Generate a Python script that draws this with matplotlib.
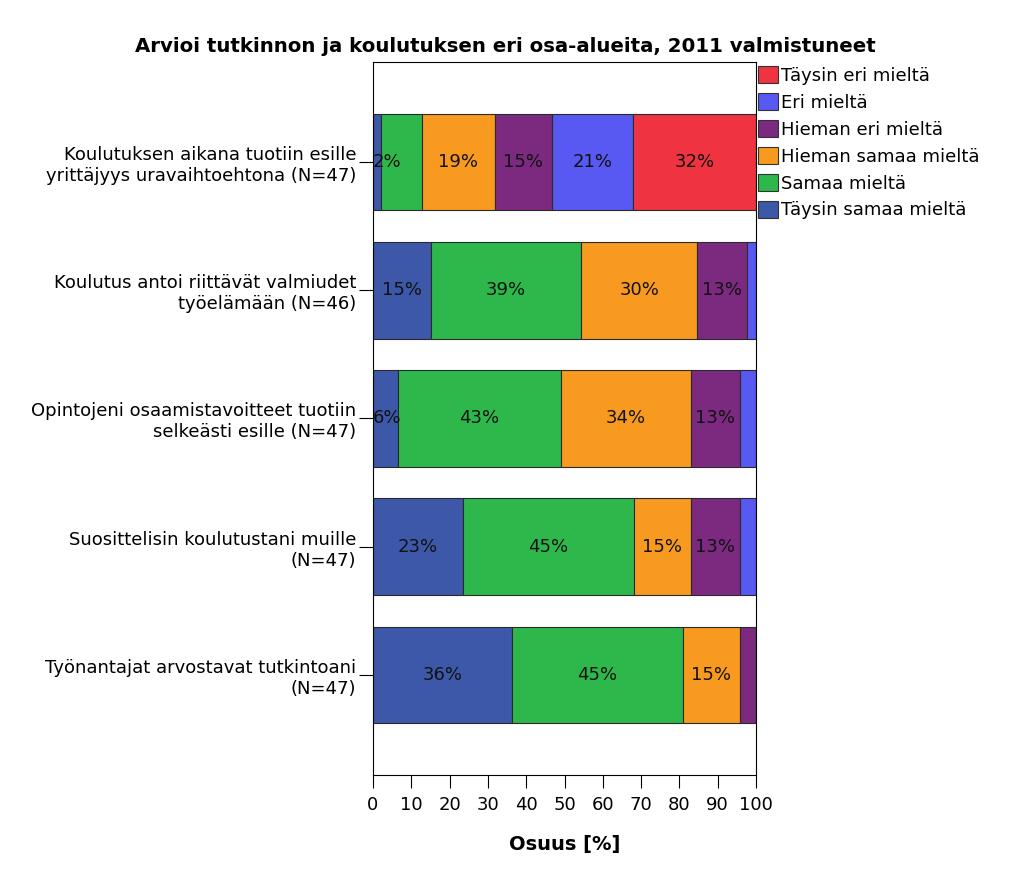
import matplotlib
matplotlib.use("Agg")
import matplotlib.pyplot as plt
from matplotlib.patches import Patch
import numpy as np

plt.rcParams['font.family'] = ['DejaVu Sans']

categories = [
    "Koulutuksen aikana tuotiin esille\nyrittäjyys uravaihtoehtona (N=47)",
    "Koulutus antoi riittävät valmiudet\ntyöelämään (N=46)",
    "Opintojeni osaamistavoitteet tuotiin\nselkeästi esille (N=47)",
    "Suosittelisin koulutustani muille\n(N=47)",
    "Työnantajat arvostavat tutkintoani\n(N=47)",
]
series_names = ["Täysin samaa mieltä", "Samaa mieltä", "Hieman samaa mieltä",
                "Hieman eri mieltä", "Eri mieltä", "Täysin eri mieltä"]
colors = ["#3D58A8", "#2EB84B", "#F89A1F", "#7B2A80", "#5858F2", "#EF3340"]

taysin_samaa = [2.1, 15.2, 6.4, 23.4, 36.2]
samaa = [10.6, 39.1, 42.6, 44.7, 44.7]
hieman_samaa = [19.1, 30.4, 34.0, 14.9, 14.9]
hieman_eri = [14.9, 13.0, 12.8, 12.8, 4.3]
eri = [21.3, 2.2, 4.3, 4.3, 0.0]
taysin_eri = [31.9, 0.0, 0.0, 0.0, 0.0]
values = [taysin_samaa, samaa, hieman_samaa, hieman_eri, eri, taysin_eri]

# labels hidden / extra-shown in the reference (row, series)
hidden = {(0, 1)}
extra_shown = {(0, 0)}

fig = plt.figure(figsize=(10.1, 8.73), dpi=100)
ax = fig.add_axes([373/1010, 1-775/873, (756-373)/1010, (775-62)/873])

y = np.arange(len(categories))
left = np.zeros(len(categories))
for s, (name, vals, col) in enumerate(zip(series_names, values, colors)):
    vals = np.array(vals)
    ax.barh(y, vals, left=left, height=0.755, color=col, edgecolor="#2a2a2a",
            linewidth=0.8, label=name)
    for i in range(len(y)):
        v = vals[i]
        if (v >= 5 and (i, s) not in hidden) or (i, s) in extra_shown:
            c = left[i] + v / 2
            if c < 4:
                ax.text(0, y[i], f"{v:.0f}%", ha="left", va="center", fontsize=13, color="#111")
            else:
                ax.text(c, y[i], f"{v:.0f}%", ha="center", va="center", fontsize=13, color="#111")
    left += vals

ax.set_xlim(0, 100)
ax.set_ylim(4.78, -0.78)
ax.set_xticks(np.arange(0, 101, 10))
ax.set_yticks(y)
ax.set_yticklabels(categories, fontsize=13)
ax.tick_params(axis="x", labelsize=13, length=9, width=0.8, pad=6)
ax.tick_params(axis="y", length=10, width=0.8, pad=2)
for sp in ax.spines.values():
    sp.set_linewidth(0.8)
ax.set_xlabel("Osuus [%]", fontsize=14, fontweight="bold", labelpad=15)

fig.text(0.5, 1-46/873, "Arvioi tutkinnon ja koulutuksen eri osa-alueita, 2011 valmistuneet",
         ha="center", va="center", fontsize=14.2, fontweight="bold")

order = [5, 4, 3, 2, 1, 0]
handles = [Patch(facecolor=colors[k], edgecolor="#333", linewidth=0.8) for k in order]
labels = [series_names[k] for k in order]
fig.legend(handles, labels, loc="upper left", bbox_to_anchor=(758/1010, 1-66/873),
           frameon=False, fontsize=13, handlelength=1.1, handleheight=1.1,
           handletextpad=0.2, labelspacing=0.45, borderpad=0, borderaxespad=0)

fig.savefig("out.png", dpi=100)
